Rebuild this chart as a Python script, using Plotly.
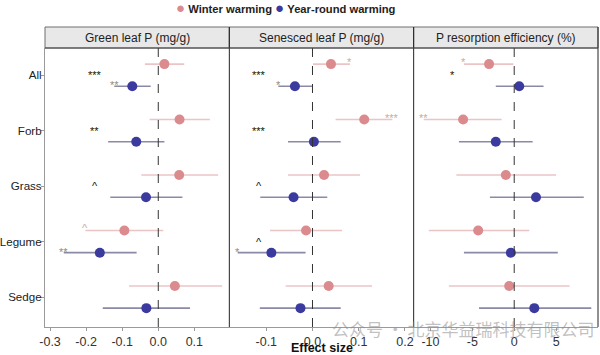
import plotly.graph_objects as go

categories = ["All", "Forb", "Grass", "Legume", "Sedge"]
panels = ["Green leaf P (mg/g)", "Senesced leaf P (mg/g)", "P resorption efficiency (%)"]
series_names = ["Winter warming", "Year-round warming"]

# Winter warming: estimate, lower CI, upper CI per panel
winter_est = [
    [0.017, 0.059, 0.058, -0.094, 0.046],
    [0.040, 0.112, 0.025, -0.014, 0.035],
    [-3.0, -6.1, -1.0, -4.3, -0.6],
]
winter_lo = [
    [-0.037, -0.024, -0.047, -0.202, -0.081],
    [0.001, 0.050, -0.053, -0.092, -0.058],
    [-6.0, -10.8, -6.9, -10.2, -7.8],
]
winter_hi = [
    [0.072, 0.143, 0.166, 0.014, 0.177],
    [0.081, 0.173, 0.103, 0.064, 0.129],
    [-0.1, -1.5, 5.0, 1.8, 6.6],
]
# Year-round warming
year_est = [
    [-0.072, -0.061, -0.034, -0.162, -0.033],
    [-0.038, 0.003, -0.041, -0.089, -0.026],
    [0.6, -2.2, 2.6, -0.4, 2.4],
]
year_lo = [
    [-0.122, -0.139, -0.133, -0.262, -0.154],
    [-0.074, -0.053, -0.113, -0.162, -0.114],
    [-2.2, -6.6, -2.9, -6.0, -4.2],
]
year_hi = [
    [-0.021, 0.017, 0.067, -0.060, 0.088],
    [0.000, 0.061, 0.032, -0.015, 0.061],
    [3.5, 2.2, 8.3, 5.2, 9.2],
]
# significance labels
overall_sig = [
    ["***", "**", "^", "", ""],
    ["***", "***", "^", "^", ""],
    ["*", "", "", "", ""],
]
winter_sig = [
    ["", "", "", "^", ""],
    ["*", "***", "", "", ""],
    ["*", "**", "", "", ""],
]
year_sig = [
    ["**", "", "", "**", ""],
    ["*", "", "", "*", ""],
    ["", "", "", "", ""],
]
overall_sig_x = [-0.176, -0.115, -7.4]

x_ranges = [[-0.314, 0.197], [-0.180, 0.219], [-12.0, 10.0]]
x_tickvals = [[-0.3, -0.2, -0.1, 0.0, 0.1], [-0.1, 0.0, 0.1, 0.2], [-10, -5, 0, 5]]
x_ticktext = [["-0.3", "-0.2", "-0.1", "0.0", "0.1"], ["-0.1", "0.0", "0.1", "0.2"], ["-10", "-5", "0", "5"]]

PINK = "#DB8A8E"
PINK_BAR = "#EBC4C6"
BLUE = "#3B3A9E"
BLUE_BAR = "#8A8AA6"
FONT = "Liberation Sans, Arial, sans-serif"

W, H = 600, 355
ML, MR, MT, MB = 45, 2, 48, 28
PH = H - MT - MB

fig = go.Figure()
ypos = list(range(len(categories)))
off = 0.2
domains = [[0, 1/3], [1/3, 2/3], [2/3, 1]]

annotations = []
for p in range(3):
    xa = "x" if p == 0 else f"x{p+1}"
    fig.add_trace(go.Scatter(
        x=winter_est[p], y=[v - off for v in ypos], mode="markers",
        marker=dict(color=PINK, size=10),
        error_x=dict(type="data", symmetric=False,
                     array=[h - e for h, e in zip(winter_hi[p], winter_est[p])],
                     arrayminus=[e - l for e, l in zip(winter_est[p], winter_lo[p])],
                     color=PINK_BAR, thickness=1.6, width=0),
        name=series_names[0], showlegend=False, xaxis=xa, yaxis="y",
        cliponaxis=False))
    fig.add_trace(go.Scatter(
        x=year_est[p], y=[v + off for v in ypos], mode="markers",
        marker=dict(color=BLUE, size=10),
        error_x=dict(type="data", symmetric=False,
                     array=[h - e for h, e in zip(year_hi[p], year_est[p])],
                     arrayminus=[e - l for e, l in zip(year_est[p], year_lo[p])],
                     color=BLUE_BAR, thickness=1.6, width=0),
        name=series_names[1], showlegend=False, xaxis=xa, yaxis="y",
        cliponaxis=False))

    for i in range(len(categories)):
        if overall_sig[p][i]:
            annotations.append(dict(x=overall_sig_x[p], y=ypos[i], xref=xa, yref="y",
                                    text=overall_sig[p][i], showarrow=False,
                                    font=dict(size=11, color="#111", family=FONT), yshift=0))
        if winter_sig[p][i]:
            xe = winter_lo[p][i] if winter_est[p][i] < 0 else winter_hi[p][i]
            annotations.append(dict(x=xe, y=ypos[i] - off, xref=xa, yref="y",
                                    text=winter_sig[p][i], showarrow=False,
                                    font=dict(size=11, color="#C9A9AA", family=FONT), yshift=2))
        if year_sig[p][i]:
            xe = year_lo[p][i] if year_est[p][i] < 0 else year_hi[p][i]
            annotations.append(dict(x=xe, y=ypos[i] + off, xref=xa, yref="y",
                                    text=year_sig[p][i], showarrow=False,
                                    font=dict(size=11, color="#8C8C8C", family=FONT), yshift=1))

    # strip titles
    annotations.append(dict(x=(domains[p][0] + domains[p][1]) / 2, y=1.0 + 10.5 / PH,
                            xref="paper", yref="paper", text=panels[p], showarrow=False,
                            font=dict(size=12, color="#222", family=FONT),
                            xanchor="center", yanchor="middle"))

# legend (as text keys)
legend_text = (f'<span style="color:{PINK};font-size:15px">●</span> <b>{series_names[0]}</b> '
               f'<span style="color:{BLUE};font-size:15px">●</span> <b>{series_names[1]}</b>')
annotations.append(dict(x=(174 - ML) / (W - ML - MR), y=1.0 + (MT - 7) / PH, xref="paper", yref="paper",
                        text=legend_text, showarrow=False, xanchor="left", yanchor="middle",
                        font=dict(size=11.2, color="#222", family=FONT)))
annotations.append(dict(x=0.5, y=-(348 - (H - MB)) / PH, xref="paper", yref="paper",
                        text="<b>Effect size</b>", showarrow=False,
                        font=dict(size=12.5, color="#111", family=FONT), yanchor="middle"))
annotations.append(dict(x=(330 - ML) / (W - ML - MR), y=-1 / PH, xref="paper", yref="paper",
                        text="公众号 · 北京华益瑞科技有限公司", showarrow=False, xanchor="left",
                        yanchor="middle",
                        font=dict(size=17, color="rgba(140,140,140,0.55)", family="Noto Sans CJK SC")))

layout_axes = {}
for p in range(3):
    key = "xaxis" if p == 0 else f"xaxis{p+1}"
    layout_axes[key] = dict(
        domain=domains[p], range=x_ranges[p], tickvals=x_tickvals[p], ticktext=x_ticktext[p],
        showgrid=False, zeroline=False, showline=True, linecolor="#9A9A9A", linewidth=1,
        ticks="outside", ticklen=3, tickcolor="#9A9A9A", automargin=False,
        tickfont=dict(size=12.5, color="#333", family=FONT), anchor="y", fixedrange=True)

fig.update_layout(**layout_axes)
fig.update_layout(
    yaxis=dict(range=[4.54, -0.49], tickvals=ypos, ticktext=categories, showgrid=False,
               zeroline=False, showline=True, linecolor="#9A9A9A", linewidth=1,
               ticks="outside", ticklen=3, tickcolor="#9A9A9A", automargin=False,
               ticklabelstandoff=-3, fixedrange=True,
               tickfont=dict(size=11.6, color="#222", family=FONT), domain=[0, 1]),
    width=W, height=H,
    margin=dict(l=ML, r=MR, t=MT, b=MB, autoexpand=False),
    plot_bgcolor="white", paper_bgcolor="white",
    font=dict(family=FONT),
    showlegend=False,
    annotations=annotations,
)

shapes = []
strip_h = 21 / PH
for p in range(3):
    shapes.append(dict(type="line", xref=("x" if p == 0 else f"x{p+1}"), yref="y domain",
                       x0=0, x1=0, y0=0, y1=1, line=dict(color="#333", width=1, dash="dash")))
    shapes.append(dict(type="rect", xref="paper", yref="paper",
                       x0=domains[p][0], x1=domains[p][1], y0=1.0, y1=1.0 + strip_h,
                       fillcolor="#E8E8E8", line=dict(color="#6E6E6E", width=1), layer="below"))
for xv in [1/3, 2/3, 1.0]:
    shapes.append(dict(type="line", xref="paper", yref="paper", x0=xv, x1=xv, y0=0, y1=1.0 + strip_h,
                       line=dict(color="#222", width=1)))
shapes.append(dict(type="line", xref="paper", yref="paper", x0=0, x1=1, y0=1.0, y1=1.0,
                   line=dict(color="#444", width=1)))
fig.update_layout(shapes=shapes)

fig.write_html("out.html", config={"displayModeBar": False},
               post_script="document.body.style.margin='0';")
